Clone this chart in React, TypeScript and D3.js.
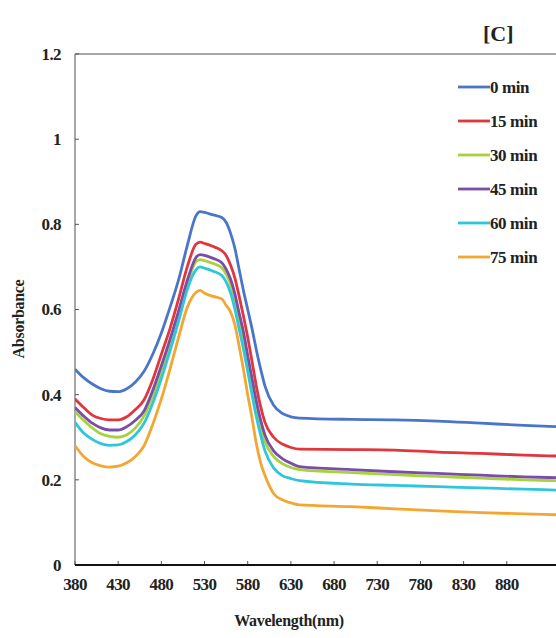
import React from "react";
import * as d3 from "d3";

const wavelengths = [380, 390, 400, 410, 420, 430, 440, 450, 460, 470, 480, 490, 500, 510, 520, 525, 530, 540, 550, 555, 560, 565, 570, 575, 580, 585, 590, 595, 600, 610, 620, 630, 640, 700, 750, 800, 850, 900, 937];

const abs0 = [0.46, 0.44, 0.425, 0.414, 0.408, 0.407, 0.414, 0.43, 0.455, 0.495, 0.545, 0.605, 0.67, 0.75, 0.82, 0.83, 0.828, 0.822, 0.816, 0.805, 0.78, 0.745, 0.695, 0.645, 0.6, 0.555, 0.505, 0.46, 0.42, 0.375, 0.356, 0.348, 0.345, 0.342, 0.341, 0.338, 0.333, 0.328, 0.325];
const abs15 = [0.39, 0.37, 0.352, 0.344, 0.341, 0.341, 0.348, 0.365, 0.388, 0.435, 0.495, 0.555, 0.625, 0.7, 0.753, 0.758, 0.755, 0.748, 0.738, 0.727, 0.705, 0.675, 0.632, 0.585, 0.535, 0.478, 0.42, 0.372, 0.335, 0.3, 0.284, 0.276, 0.272, 0.271, 0.27, 0.265, 0.262, 0.258, 0.256];
const abs30 = [0.36, 0.34, 0.322, 0.308, 0.302, 0.3, 0.306, 0.322, 0.35, 0.398, 0.456, 0.52, 0.588, 0.66, 0.712, 0.717, 0.715, 0.708, 0.698, 0.683, 0.66, 0.625, 0.58, 0.535, 0.482, 0.425, 0.37, 0.325, 0.29, 0.255, 0.238, 0.229, 0.224, 0.217, 0.212, 0.208, 0.204, 0.2, 0.198];
const abs45 = [0.37, 0.35, 0.333, 0.322, 0.317, 0.317, 0.325, 0.34, 0.362, 0.41, 0.468, 0.53, 0.597, 0.668, 0.722, 0.729, 0.727, 0.72, 0.71, 0.695, 0.672, 0.638, 0.592, 0.548, 0.492, 0.438, 0.385, 0.34, 0.305, 0.268, 0.25, 0.239, 0.231, 0.224, 0.219, 0.215, 0.211, 0.207, 0.205];
const abs60 = [0.335, 0.31, 0.295, 0.285, 0.281, 0.282, 0.29, 0.306, 0.333, 0.38, 0.438, 0.503, 0.573, 0.647, 0.693, 0.7, 0.697, 0.69, 0.68, 0.665, 0.64, 0.602, 0.555, 0.508, 0.455, 0.4, 0.348, 0.305, 0.268, 0.228, 0.21, 0.203, 0.198, 0.19, 0.187, 0.184, 0.181, 0.178, 0.176];
const abs75 = [0.28, 0.255, 0.24, 0.233, 0.23, 0.232, 0.24, 0.255, 0.28, 0.33, 0.39, 0.46, 0.535, 0.605, 0.64, 0.645, 0.638, 0.631, 0.625, 0.61, 0.595, 0.565, 0.515, 0.46, 0.4, 0.345, 0.285, 0.24, 0.21, 0.168, 0.153, 0.146, 0.141, 0.137, 0.132, 0.127, 0.123, 0.12, 0.118];

const seriesNames = ["0 min", "15 min", "30 min", "45 min", "60 min", "75 min"];
const seriesValues = [abs0, abs15, abs30, abs45, abs60, abs75];
const seriesColors = ["#4a76c8", "#e0363e", "#a8d23c", "#7a4ea6", "#2fc6dc", "#f4a632"];

const xTicks = [380, 430, 480, 530, 580, 630, 680, 730, 780, 830, 880];
const yTicks = [0, 0.2, 0.4, 0.6, 0.8, 1, 1.2];

const W = 556;
const H = 638;
const plot = { left: 75, right: 556, top: 54, bottom: 565 };
const font = "'Liberation Serif', 'Times New Roman', serif";

export default function App() {
  const x = d3.scaleLinear().domain([380, 937]).range([plot.left, plot.right]);
  const y = d3.scaleLinear().domain([0, 1.2]).range([plot.bottom, plot.top]);
  const line = d3
    .line<number>()
    .x((_, i) => x(wavelengths[i]))
    .y((v) => y(v))
    .curve(d3.curveMonotoneX);

  const legendX = 458;
  const legendY0 = 87;
  const legendStep = 34;

  return (
    <svg
      width={W}
      height={H}
      style={{ position: "absolute", left: 0, top: 0, background: "#fff" }}
      fontFamily={font}
      fontWeight="bold"
    >
      <defs>
        <clipPath id="plotClip">
          <rect x={plot.left} y={plot.top} width={plot.right - plot.left} height={plot.bottom - plot.top} />
        </clipPath>
      </defs>

      {/* frame */}
      <line x1={plot.left} x2={plot.right} y1={plot.top} y2={plot.top} stroke="#8a8a8a" strokeWidth={1.5} />
      <line x1={plot.left} x2={plot.left} y1={plot.top} y2={plot.bottom} stroke="#8a8a8a" strokeWidth={1.5} />

      {/* y ticks and labels */}
      {yTicks.map((t) => (
        <g key={t}>
          <line x1={plot.left} x2={plot.left + 4} y1={y(t)} y2={y(t)} stroke="#555" strokeWidth={1} />
          <text x={61} y={y(t)} dy="0.35em" textAnchor="end" fontSize={17} fill="#222" letterSpacing={-0.6}>
            {d3.format("~g")(t)}
          </text>
        </g>
      ))}

      {/* x ticks and labels */}
      {xTicks.map((t) => (
        <g key={t}>
          <line x1={x(t)} x2={x(t)} y1={plot.bottom} y2={plot.bottom - 4} stroke="#555" strokeWidth={1} />
          <text x={x(t)} y={590} textAnchor="middle" fontSize={17} fill="#222" letterSpacing={-0.6}>
            {t}
          </text>
        </g>
      ))}

      {/* spectra */}
      <g clipPath="url(#plotClip)">
        {seriesValues.map((vals, i) => (
          <path key={seriesNames[i]} d={line(vals) || ""} fill="none" stroke={seriesColors[i]} strokeWidth={2.8} strokeLinejoin="round" />
        ))}
      </g>

      {/* bottom axis */}
      <line x1={plot.left} x2={plot.right} y1={plot.bottom} y2={plot.bottom} stroke="#111" strokeWidth={2} />

      {/* legend */}
      {seriesNames.map((name, i) => (
        <g key={name} transform={`translate(${legendX},${legendY0 + i * legendStep})`}>
          <line x1={0} x2={32} y1={0} y2={0} stroke={seriesColors[i]} strokeWidth={2.8} />
          <text x={32} y={0} dy="0.35em" fontSize={17} fill="#222" letterSpacing={-0.4}>
            {name}
          </text>
        </g>
      ))}

      {/* panel tag */}
      <text x={483} y={41} fontSize={22} fill="#222">
        [C]
      </text>

      {/* axis titles */}
      <text x={289} y={626} textAnchor="middle" fontSize={16} fill="#222" letterSpacing={-0.3}>
        Wavelength(nm)
      </text>
      <text transform="translate(24,319) rotate(-90)" textAnchor="middle" fontSize={16} fill="#222" letterSpacing={-0.3}>
        Absorbance
      </text>
    </svg>
  );
}
